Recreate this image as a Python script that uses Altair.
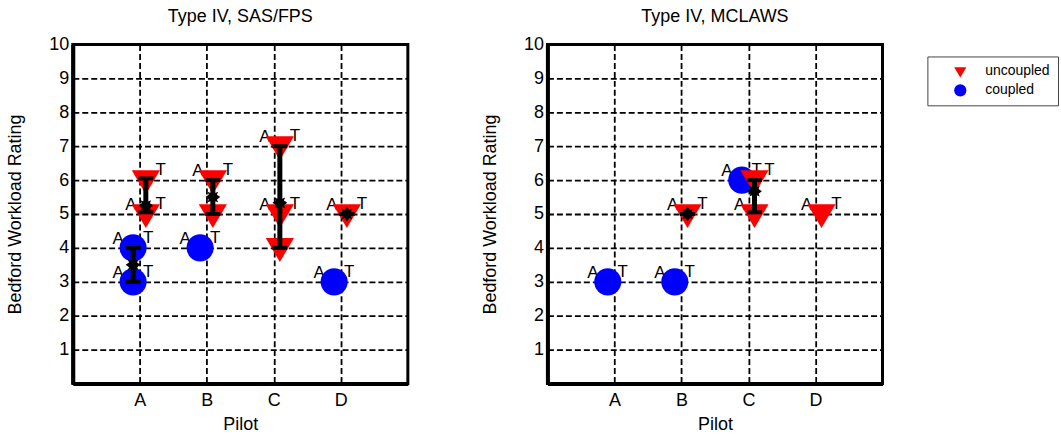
import altair as alt
import pandas as pd

FONT = "Liberation Sans"
GROUPS = ["uncoupled", "coupled"]
COLORS = ["#ff0000", "#0000ff"]
PILOT_LABELS = ["", "A", "B", "C", "D", ""]
TRI = "M-1,-0.7L1,-0.7L0,1.0Z"
STAR = ("M0,-1L0.32,-0.55L0.71,-0.71L0.55,-0.32L1,0L0.55,0.32L0.71,0.71L0.32,0.55"
        "L0,1L-0.32,0.55L-0.71,0.71L-0.55,0.32L-1,0L-0.55,-0.32L-0.71,-0.71L-0.32,-0.55Z")

# ---- Type IV, SAS/FPS ----
sas_pilot = [1, 1, 2, 4, 1, 1, 2, 2, 3, 3, 3, 4]
sas_group = ["coupled"] * 4 + ["uncoupled"] * 8
sas_rating = [4, 3, 4, 3, 6, 5, 6, 5, 7, 5, 4, 5]
sas_lab_a = [1, 1, 1, 1, 0, 1, 1, 0, 1, 1, 0, 1]
sas_lab_t = [1, 1, 1, 1, 1, 1, 1, 0, 1, 1, 0, 1]

sas_bar_pilot = [1, 1, 2, 3, 4]
sas_bar_group = ["coupled", "uncoupled", "uncoupled", "uncoupled", "uncoupled"]
sas_bar_mean = [3.5, 5.25, 5.5, 5.33, 5.0]
sas_bar_low = [3.0, 5.05, 5.0, 4.0, 5.0]
sas_bar_high = [4.0, 6.05, 6.0, 7.0, 5.0]

# ---- Type IV, MCLAWS ----
mcl_pilot = [1, 2, 3, 2, 3, 3, 4]
mcl_group = ["coupled"] * 3 + ["uncoupled"] * 4
mcl_rating = [3, 3, 6, 5, 6, 5, 5]
mcl_lab_a = [1, 1, 1, 1, 0, 1, 1]
mcl_lab_t = [1, 1, 1, 1, 1, 0, 1]

mcl_bar_pilot = [2, 3]
mcl_bar_group = ["uncoupled", "uncoupled"]
mcl_bar_mean = [5.0, 5.67]
mcl_bar_low = [5.0, 5.05]
mcl_bar_high = [5.0, 6.0]

XOFF = "datum.pilot + (datum.group == 'uncoupled' ? 0.09 : -0.1)"

LEGEND = alt.Legend(
    orient="none", legendX=857, legendY=12, title=None,
    labelFont=FONT, labelFontSize=14, labelColor="black",
    symbolSize=150, symbolStrokeWidth=0, symbolOffset=18,
    labelOffset=18, rowPadding=5, padding=8,
    strokeColor="#444444", fillColor="white",
)


def xenc():
    return alt.X(
        "xpos:Q",
        scale=alt.Scale(domain=[0, 5], nice=False, zero=False),
        axis=alt.Axis(
            title="Pilot", values=[1, 2, 3, 4],
            labelExpr="%s[datum.value]" % str(PILOT_LABELS),
            grid=True, labelPadding=8, titlePadding=6,
        ),
    )


def yenc(field):
    return alt.Y(
        field + ":Q",
        scale=alt.Scale(domain=[0, 10], nice=False, zero=False),
        axis=alt.Axis(
            title="Bedford Workload Rating", values=list(range(1, 11)),
            grid=True, labelPadding=4, minExtent=26, maxExtent=26,
            titlePadding=22,
        ),
    )


def panel(title, pts, bars):
    color = alt.Color("group:N", scale=alt.Scale(domain=GROUPS, range=COLORS), legend=LEGEND)
    shape = alt.Shape("group:N", scale=alt.Scale(domain=GROUPS, range=[TRI, "circle"]), legend=LEGEND)

    P = alt.Chart(pts).transform_calculate(xpos=XOFF)
    lab_a = P.transform_filter("datum.labA == 1").mark_text(
        text="A", dx=-15, dy=-9, fontSize=17, font=FONT, color="black"
    ).encode(x=xenc(), y=yenc("rating"))
    lab_t = P.transform_filter("datum.labT == 1").mark_text(
        text="T", dx=15, dy=-10, fontSize=17, font=FONT, color="black"
    ).encode(x=xenc(), y=yenc("rating"))
    cpl = P.transform_filter("datum.group == 'coupled'").mark_point(
        filled=True, size=740, opacity=1
    ).encode(x=xenc(), y=yenc("rating"), color=color, shape=shape)
    unc = P.transform_filter("datum.group == 'uncoupled'").mark_point(
        filled=True, size=800, opacity=1
    ).encode(x=xenc(), y=yenc("rating"), color=color, shape=shape)

    B = alt.Chart(bars).transform_calculate(xpos=XOFF)
    rule = B.mark_rule(color="black", strokeWidth=5).encode(
        x=xenc(), y=yenc("low"), y2="high:Q"
    )
    cap_lo = B.mark_tick(orient="horizontal", size=15, thickness=4, color="black", opacity=1).encode(
        x=xenc(), y=yenc("low")
    )
    cap_hi = B.mark_tick(orient="horizontal", size=15, thickness=4, color="black", opacity=1).encode(
        x=xenc(), y=yenc("high")
    )
    star = B.mark_point(shape=STAR, filled=True, size=220, color="black", opacity=1).encode(
        x=xenc(), y=yenc("mean")
    )

    return alt.layer(lab_a, lab_t, cpl, unc, rule, cap_lo, cap_hi, star).properties(
        width=336, height=340,
        title=alt.TitleParams(title, font=FONT, fontSize=18, fontWeight="normal",
                              color="black", offset=10, anchor="middle"),
    )


sas_pts = pd.DataFrame({"pilot": sas_pilot, "group": sas_group, "rating": sas_rating,
                        "labA": sas_lab_a, "labT": sas_lab_t})
sas_bars = pd.DataFrame({"pilot": sas_bar_pilot, "group": sas_bar_group, "mean": sas_bar_mean,
                         "low": sas_bar_low, "high": sas_bar_high})
mcl_pts = pd.DataFrame({"pilot": mcl_pilot, "group": mcl_group, "rating": mcl_rating,
                        "labA": mcl_lab_a, "labT": mcl_lab_t})
mcl_bars = pd.DataFrame({"pilot": mcl_bar_pilot, "group": mcl_bar_group, "mean": mcl_bar_mean,
                         "low": mcl_bar_low, "high": mcl_bar_high})

left = panel("Type IV, SAS/FPS", sas_pts, sas_bars)
right = panel("Type IV, MCLAWS", mcl_pts, mcl_bars)

chart = (
    alt.hconcat(left, right, spacing=70)
    .resolve_scale(color="shared", shape="shared")
    .resolve_legend(color="shared", shape="shared")
    .properties(padding={"left": 5, "top": 5, "right": 2, "bottom": 2}, background="white")
    .configure_view(stroke="black", strokeWidth=3)
    .configure_axis(
        domainColor="black", domainWidth=4, ticks=False,
        labelFont=FONT, labelFontSize=18, labelColor="black",
        titleFont=FONT, titleFontSize=18, titleFontWeight="normal", titleColor="black",
        gridColor="black", gridDash=[6, 3], gridWidth=1.8, gridOpacity=1,
    )
)

chart.save("out.html", embed_options={"renderer": "svg", "actions": False})
